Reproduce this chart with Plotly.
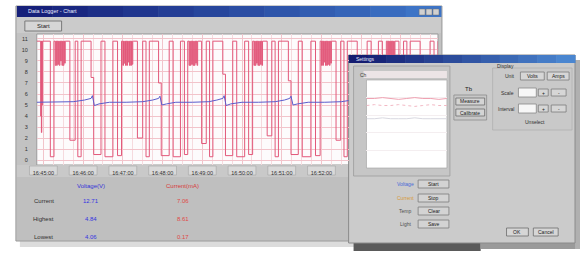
import plotly.graph_objects as go

W, H = 581, 257

# ---------------- data ----------------
red_t = [-10, -4, -3.5, -3, -2.5, -2, -1.5, 10.5, 16,
         18, 19, 20, 21, 22, 23, 24, 25, 26, 27, 28, 29, 30, 31, 32, 33, 34,
         40, 48, 52, 57, 72, 76, 87, 93, 105, 112, 118,
         120, 121, 122, 123, 124, 125, 126, 127, 128, 129, 130, 131, 132, 133, 134, 135, 136,
         142, 150, 155, 160, 174, 178, 190, 196, 207, 213, 218,
         220, 221, 222, 223, 224, 225, 226, 227, 228, 229, 230, 231, 232, 233,
         239, 246, 251, 256, 271, 275, 286, 292, 304, 310, 316,
         318, 319, 320, 321, 322, 323, 324, 325, 326, 327, 328, 329, 330, 331,
         338, 345, 350, 355, 370, 374, 385, 391, 404, 411, 418,
         420, 421, 422, 423, 424, 425, 426, 427, 428, 429, 430, 431, 432, 433, 434, 435, 436,
         442, 449, 454, 459, 474, 478, 489, 495, 506, 512, 518,
         520, 521, 522, 523, 524, 525, 526, 527, 528, 529, 530, 531,
         537, 544, 549, 554, 569, 573, 584, 590, 596]
red_v = [10.8, 4.0, 10.8, 2.5, 10.8, 5.0, 10.8, 0.3, 10.8,
         8.6, 10.8, 8.6, 10.8, 8.7, 10.8, 8.6, 10.8, 9.0, 10.8, 8.6, 10.8, 8.6, 10.8, 8.8, 10.8, 10.8,
         1.8, 10.8, 0.3, 10.8, 7.5, 0.5, 10.8, 0.3, 10.8, 0.4, 10.8,
         8.6, 10.8, 8.8, 10.8, 8.6, 10.8, 8.6, 10.8, 8.9, 10.8, 8.6, 10.8, 8.6, 10.8, 8.7, 10.8, 10.8,
         2.0, 10.8, 0.3, 10.8, 7.0, 0.4, 10.8, 0.3, 10.8, 0.5, 10.8,
         8.6, 10.8, 8.6, 10.8, 8.7, 10.8, 8.6, 10.8, 8.6, 10.8, 8.8, 10.8, 8.6, 10.8,
         1.5, 10.8, 0.3, 10.8, 7.8, 0.4, 10.8, 0.3, 10.8, 0.5, 10.8,
         8.6, 10.8, 8.6, 10.8, 8.8, 10.8, 8.6, 10.8, 8.6, 10.8, 8.7, 10.8, 8.6, 10.8,
         2.2, 10.8, 0.3, 10.8, 7.2, 0.5, 10.8, 0.3, 10.8, 0.4, 10.8,
         8.6, 10.8, 8.6, 10.8, 8.9, 10.8, 8.6, 10.8, 8.6, 10.8, 8.7, 10.8, 8.6, 10.8, 8.8, 10.8, 10.8,
         1.8, 10.8, 0.3, 10.8, 7.5, 0.4, 10.8, 0.3, 10.8, 0.4, 10.8,
         8.6, 10.8, 8.6, 10.8, 8.7, 10.8, 8.6, 10.8, 8.6, 10.8, 8.7, 10.8,
         2.0, 10.8, 0.3, 10.8, 7.4, 0.5, 10.8, 0.3, 10.8]

blue_t = [-10, 20, 45, 62, 72, 74, 77, 84, 100,
          125, 150, 165, 174, 176, 179, 186, 200,
          225, 250, 262, 271, 273, 276, 283, 300,
          325, 350, 364, 372, 374, 377, 384, 400,
          425, 450, 466, 474, 476, 479, 486, 500,
          525, 550, 562, 571, 573, 576, 583, 596]
blue_v = [5.25, 5.25, 5.3, 5.45, 5.6, 5.85, 4.95, 5.1, 5.25,
          5.25, 5.3, 5.45, 5.6, 5.8, 5.0, 5.1, 5.25,
          5.25, 5.3, 5.45, 5.6, 5.85, 4.95, 5.1, 5.25,
          5.25, 5.3, 5.45, 5.6, 5.8, 5.0, 5.1, 5.25,
          5.25, 5.3, 5.45, 5.6, 5.85, 4.95, 5.1, 5.25,
          5.25, 5.3, 5.45, 5.6, 5.8, 5.0, 5.15, 5.25]

mini_t = [0, 2, 4, 6, 8, 10, 12, 14, 16, 18, 20]
mini_pink_a = [7.9, 7.9, 8.0, 7.9, 7.8, 7.9, 8.0, 7.9, 7.9, 7.8, 7.9]
mini_pink_b = [7.1, 7.2, 7.1, 7.1, 7.2, 7.1, 7.0, 7.1, 7.2, 7.1, 7.1]
mini_grey = [5.6, 5.6, 5.7, 5.6, 5.6, 5.6, 5.7, 5.6, 5.6, 5.6, 5.6]

x_tick_vals = [0, 60, 120, 180, 240, 300, 360, 420]
x_tick_text = ["16:45:00", "16:46:00", "16:47:00", "16:48:00",
               "16:49:00", "16:50:00", "16:51:00", "16:52:00"]
y_tick_vals = [0, 1, 2, 3, 4, 5, 6, 7, 8, 9, 10, 11]
y_tick_text = ["0", "1", "2", "3", "4", "5", "6", "7", "8", "9", "10", "11"]

table_cols = ["Voltage(V)", "Current(mA)"]
table_rows = ["Current", "Highest", "Lowest"]
volt_vals = ["12.71", "4.84", "4.06"]
curr_vals = ["7.06", "8.61", "0.17"]

# ---------------- helpers ----------------
def px(x):
    return x / W

def py(y):
    return 1 - y / H

shapes = []
annotations = []

def rect(x0, y0, x1, y1, fill, line=None, lw=0, layer="below"):
    shapes.append(dict(type="rect", xref="paper", yref="paper",
                       x0=px(x0), x1=px(x1), y0=py(y1), y1=py(y0),
                       fillcolor=fill, line=dict(color=line or fill, width=lw),
                       layer=layer))

def text(x, y, s, size=6, color="#222222", anchor="center", family="Liberation Sans"):
    annotations.append(dict(xref="paper", yref="paper", x=px(x), y=py(y), text=s,
                            showarrow=False, xanchor=anchor, yanchor="middle",
                            font=dict(size=size, color=color, family=family)))

def hexmix(c1, c2, f):
    a = [int(c1[i:i + 2], 16) for i in (1, 3, 5)]
    b = [int(c2[i:i + 2], 16) for i in (1, 3, 5)]
    return "#" + "".join("%02x" % int(a[k] + (b[k] - a[k]) * f) for k in range(3))

def titlebar(x0, y0, x1, y1, c_left, c_right, n=12):
    step = (x1 - x0) / n
    for i in range(n):
        rect(x0 + i * step, y0, x0 + (i + 1) * step + 0.5, y1, hexmix(c_left, c_right, i / (n - 1)))

# ---------------- geometry ----------------
PLOT_L, PLOT_R, PLOT_T, PLOT_B = 33, 437, 34, 165
SPLIT_X, SPLIT_Y = 347, 55
XR_A = [-10, 461]
XR_B = [461, 596]
YR = [-0.45, 11.45]
y_per_px = (YR[1] - YR[0]) / (PLOT_B - PLOT_T)
YR_B = [YR[1] - (SPLIT_Y - PLOT_T) * y_per_px, YR[1]]

# main window
rect(16, 241, 446, 247, "#dcdcdc")
rect(12, 6, 441, 241, "#c2c2c2", "#9a9a9a", 1)
titlebar(13, 6, 440, 17, "#16207a", "#3d74c6")
for bx in (418, 425, 432):
    rect(bx, 9, bx + 6, 15, "#d0d0d0", "#707070", 0.5)
rect(13, 17, 440, 33, "#cbcbcb")
rect(21, 21, 58, 31, "#d6d6d6", "#7a7a7a", 1)
# plot area
rect(PLOT_L, PLOT_T, PLOT_R, PLOT_B, "#fdfbfc", "#9a9a9a", 1)
# tick label strip and lower panel
rect(13, 165, 440, 177, "#c9c9c9")
rect(13, 177, 440, 240, "#bfbfbf")

# boxes behind the x tick labels
a_scale = (SPLIT_X - PLOT_L) / (XR_A[1] - XR_A[0])
for tv in x_tick_vals:
    cx = PLOT_L + (tv - XR_A[0]) * a_scale
    rect(cx - 14, 166, cx + 14, 175, "#d9d9d9", "#a4a4a4", 0.6)

# second window
rect(352, 243, 480, 251, "#5a5a5a")
rect(480, 243, 578, 249, "#9a9a9a")
rect(575, 60, 580, 249, "#b0b0b0")
rect(347, 55, 575, 243, "#cbcbcb", "#8a8a8a", 1)
titlebar(347, 55, 575, 63, "#141c70", "#4a86d0")
rect(352, 66, 449, 176, "#c6c6c6", "#9c9c9c", 0.8)
rect(362, 71, 446, 78, "#ece4e6")
rect(365, 80, 446, 168, "#ffffff", "#a0a0a0", 0.6)
# mini chart buttons
for by in (180, 194, 207, 220):
    rect(417, by, 448, by + 8, "#d3d3d3", "#7c7c7c", 0.8)
# middle buttons
rect(453, 95, 486, 120, "#c8c8c8", "#8c8c8c", 0.8)
rect(455, 98, 484, 105, "#d4d4d4", "#6c6c6c", 0.8)
rect(455, 109, 484, 116, "#d4d4d4", "#6c6c6c", 0.8)
# right group
rect(492, 68, 572, 130, "#c9c9c9", "#a8a8a8", 0.6)
rect(520, 72, 544, 80, "#d6d6d6", "#7c7c7c", 0.8)
rect(547, 72, 569, 80, "#d6d6d6", "#7c7c7c", 0.8)
rect(518, 88, 536, 97, "#f7f7f7", "#888888", 0.8)
rect(538, 89, 548, 96, "#d6d6d6", "#7c7c7c", 0.8)
rect(551, 89, 566, 96, "#d6d6d6", "#7c7c7c", 0.8)
rect(518, 104, 536, 113, "#f7f7f7", "#888888", 0.8)
rect(538, 105, 548, 112, "#d6d6d6", "#7c7c7c", 0.8)
rect(551, 105, 566, 112, "#d6d6d6", "#7c7c7c", 0.8)
# bottom buttons
rect(506, 228, 528, 236, "#d6d6d6", "#6c6c6c", 0.8)
rect(533, 228, 558, 236, "#d6d6d6", "#6c6c6c", 0.8)

# ---------------- text ----------------
text(22, 11.5, "Data Logger - Chart", 5.5, "#e8ecff", "left")
text(40, 26, "Start", 6, "#202020")
text(88, 186, table_cols[0], 6, "#3434d8")
text(180, 186, table_cols[1], 6, "#d83a3a")
for i, r in enumerate(table_rows):
    yy = 201 + i * 18
    text(40, yy, r, 6, "#303030")
    text(88, yy, volt_vals[i], 6, "#3434e0")
    text(180, yy, curr_vals[i], 6, "#e04848")

text(352, 59, "Settings", 5, "#e8ecff", "left")
text(356, 74.5, "Ch", 5, "#404040", "left")
text(404, 184, "Voltage", 5, "#4a6ad8")
text(404, 198, "Current", 5, "#d89a3a")
text(404, 211, "Temp", 5, "#505050")
text(404, 224, "Light", 5, "#505050")
for lab, by in zip(["Start", "Stop", "Clear", "Save"], (180, 194, 207, 220)):
    text(432.5, by + 4, lab, 5, "#202020")
text(468, 89, "Tb", 6, "#202020")
text(469.5, 101.5, "Measure", 5, "#202020")
text(469.5, 112.5, "Calibrate", 5, "#202020")
text(505, 66, "Display", 5, "#303030")
text(517, 76, "Unit", 5, "#303030", "right")
text(532, 76, "Volts", 5, "#202020")
text(558, 76, "Amps", 5, "#202020")
text(516, 92.5, "Scale", 5, "#303030", "right")
text(516, 108.5, "Interval", 5, "#303030", "right")
for yy in (92.5, 108.5):
    text(543, yy, "+", 5, "#202020")
    text(558.5, yy, "-", 5, "#202020")
text(535, 122, "Unselect", 5, "#303030")
text(517, 232, "OK", 5, "#202020")
text(545.5, 232, "Cancel", 5, "#202020")

# ---------------- traces ----------------
RED = "#e2587a"
BLUE = "#5a5ccc"
GRID = "#f2c4cb"
GRID_MINOR = "#f6dade"

fig = go.Figure()
for xa, ya in (("x", "y"), ("x2", "y2")):
    fig.add_trace(go.Scatter(x=red_t, y=red_v, mode="lines", xaxis=xa, yaxis=ya,
                             line=dict(color=RED, width=1, shape="hv"), showlegend=False,
                             hoverinfo="skip"))
    fig.add_trace(go.Scatter(x=blue_t, y=blue_v, mode="lines", xaxis=xa, yaxis=ya,
                             line=dict(color=BLUE, width=1), showlegend=False,
                             hoverinfo="skip"))
fig.add_trace(go.Scatter(x=mini_t, y=mini_pink_a, mode="lines", xaxis="x3", yaxis="y3",
                         line=dict(color="#efa0b0", width=1), showlegend=False))
fig.add_trace(go.Scatter(x=mini_t, y=mini_pink_b, mode="lines", xaxis="x3", yaxis="y3",
                         line=dict(color="#f2b8c4", width=1, dash="dot"), showlegend=False))
fig.add_trace(go.Scatter(x=mini_t, y=mini_grey, mode="lines", xaxis="x3", yaxis="y3",
                         line=dict(color="#d8d8e0", width=1), showlegend=False))

common_x = dict(showgrid=True, gridcolor=GRID, gridwidth=1, zeroline=False, ticks="",
                minor=dict(dtick=15, tick0=0, showgrid=True, gridcolor=GRID_MINOR, gridwidth=1))
common_y = dict(showgrid=True, gridcolor=GRID, gridwidth=1, zeroline=False, ticks="")

fig.update_layout(
    width=W, height=H, autosize=False,
    margin=dict(l=0, r=0, t=0, b=0),
    paper_bgcolor="#ffffff", plot_bgcolor="rgba(0,0,0,0)",
    showlegend=False,
    xaxis=dict(domain=[px(PLOT_L), px(SPLIT_X)], range=XR_A, anchor="y",
               tickvals=x_tick_vals, ticktext=x_tick_text,
               tickfont=dict(size=5.5, color="#333333", family="Liberation Sans"),
               ticklabelstandoff=3, **common_x),
    yaxis=dict(domain=[py(PLOT_B), py(PLOT_T)], range=YR, anchor="x",
               tickvals=y_tick_vals, ticktext=y_tick_text,
               tickfont=dict(size=5.5, color="#333333", family="Liberation Sans"),
               ticklabelstandoff=8, **common_y),
    xaxis2=dict(domain=[px(SPLIT_X), px(PLOT_R)], range=XR_B, anchor="y2",
                tickvals=[480, 540], showticklabels=False, **common_x),
    yaxis2=dict(domain=[py(SPLIT_Y), py(PLOT_T)], range=YR_B, anchor="x2",
                tickvals=y_tick_vals, showticklabels=False, **common_y),
    xaxis3=dict(domain=[px(365), px(446)], range=[0, 20], anchor="y3",
                showticklabels=False, showgrid=False, zeroline=False),
    yaxis3=dict(domain=[py(168), py(80)], range=[0, 10], anchor="x3",
                showticklabels=False, showgrid=True, gridcolor="#f4eef0",
                dtick=2, zeroline=False),
    shapes=shapes,
    annotations=annotations,
)

fig.write_html("out.html", config={"displayModeBar": False},
               post_script="document.body.style.margin='0';document.body.style.padding='0';")
